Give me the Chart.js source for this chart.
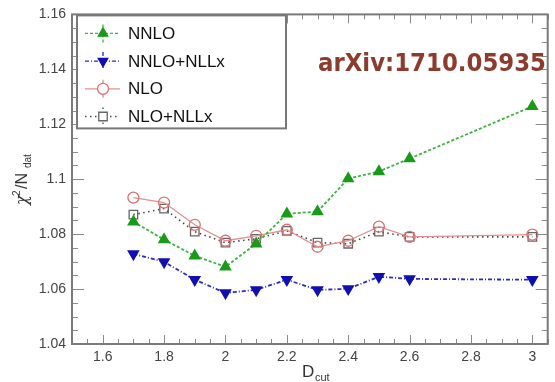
<!DOCTYPE html>
<html>
<head>
<meta charset="utf-8">
<script src="https://cdn.jsdelivr.net/npm/chart.js@4"></script>
<style>
  html, body { margin: 0; padding: 0; background: #fff; }
  #wrap { width: 555px; height: 382px; position: relative; }
</style>
</head>
<body>
<div id="wrap"><canvas id="chart"></canvas></div>
<script>
// D_cut values
const dcut = [1.7, 1.8, 1.9, 2.0, 2.1, 2.2, 2.3, 2.4, 2.5, 2.6, 3.0];

// chi2 / N_dat per fit
const nnlo      = [1.0845, 1.078, 1.0721, 1.0681, 1.0765, 1.0874, 1.0882, 1.1002, 1.1028, 1.1075, 1.1265];
const nnloNllx  = [1.0728, 1.0699, 1.0634, 1.0586, 1.0597, 1.0634, 1.0597, 1.0601, 1.0645, 1.0637, 1.0634];
const nlo       = [1.0933, 1.0915, 1.0834, 1.0776, 1.0794, 1.0816, 1.0754, 1.0776, 1.0827, 1.0790, 1.0798];
const nloNllx   = [1.0871, 1.0893, 1.0809, 1.0769, 1.0783, 1.0812, 1.0769, 1.0765, 1.0809, 1.0790, 1.0790];

const seriesLabels = ['NNLO', 'NNLO+NLLx', 'NLO', 'NLO+NLLx'];

// axis ticks
const xTicks = [1.6, 1.8, 2.0, 2.2, 2.4, 2.6, 2.8, 3.0];
const yTicks = [1.04, 1.06, 1.08, 1.10, 1.12, 1.14, 1.16];

const annotationText = 'arXiv:1710.05935';

const toPoints = ys => ys.map((y, i) => ({x: dcut[i], y: y}));

function fmt(v) {
    return String(parseFloat(v.toFixed(2)));
}

// ROOT-like frame with inward ticks
const framePlugin = {
    id: 'frame',
    beforeDatasetsDraw(chart) {
        const {ctx, chartArea: a, scales: {x, y}} = chart;
        ctx.save();
        ctx.strokeStyle = '#8a8a8a';
        ctx.lineWidth = 1;
        // minor + major ticks on x
        for (let v = 1.5; v <= 3.0501; v += 0.05) {
            let major = Math.abs(Math.round(v * 5) - v * 5) < 1e-6;
            let len = major ? 9 : 5;
            let px = Math.round(x.getPixelForValue(v)) + 0.5;
            ctx.beginPath();
            ctx.moveTo(px, a.bottom); ctx.lineTo(px, a.bottom - len);
            ctx.moveTo(px, a.top); ctx.lineTo(px, a.top + len);
            ctx.stroke();
        }
        for (let v = 1.04; v <= 1.1601; v += 0.005) {
            let major = Math.abs(Math.round(v * 50) - v * 50) < 1e-6;
            let len = major ? 12 : 6;
            let py = Math.round(y.getPixelForValue(v)) + 0.5;
            ctx.beginPath();
            ctx.moveTo(a.left, py); ctx.lineTo(a.left + len, py);
            ctx.moveTo(a.right, py); ctx.lineTo(a.right - len, py);
            ctx.stroke();
        }
        ctx.lineWidth = 2;
        ctx.strokeStyle = '#7a7a7a';
        ctx.strokeRect(a.left, a.top, a.right - a.left, a.bottom - a.top);
        ctx.restore();
    }
};

// legend box, annotation and axis titles
const overlayPlugin = {
    id: 'overlay',
    afterDatasetsDraw(chart) {
        const {ctx, chartArea: a} = chart;
        ctx.save();

        // legend box
        let lx = a.left + 5, ly = a.top + 1, lw = 209, lh = 113;
        ctx.fillStyle = '#fff';
        ctx.fillRect(lx, ly, lw, lh);
        ctx.strokeStyle = '#777';
        ctx.lineWidth = 2;
        ctx.strokeRect(lx, ly, lw, lh);

        chart.data.datasets.forEach((ds, i) => {
            let cy = ly + 18 + i * 27.7;
            let mx = lx + 26;
            ctx.strokeStyle = ds.borderColor;
            ctx.lineWidth = 1.3;
            ctx.setLineDash(ds.borderDash || []);
            ctx.beginPath();
            ctx.moveTo(lx + 8, cy); ctx.lineTo(lx + 43, cy);
            ctx.moveTo(mx, cy - 9); ctx.lineTo(mx, cy + 9);
            ctx.stroke();
            ctx.setLineDash([]);
            if (ds.pointBackgroundColor === 'rgba(255,255,255,0)') {
                ctx.fillStyle = '#fff';
                ctx.fillRect(mx - 5, cy - 5, 10, 10);
            }
            ctx.fillStyle = ds.pointBackgroundColor;
            ctx.strokeStyle = ds.pointBorderColor;
            ctx.lineWidth = 1.3;
            Chart.helpers.drawPoint(ctx, {
                pointStyle: ds.pointStyle,
                radius: ds.pointRadius,
                rotation: ds.pointRotation || 0,
                borderWidth: 1.3
            }, mx, cy);
            ctx.fillStyle = '#111';
            ctx.font = '17px "Liberation Sans", Arial, sans-serif';
            ctx.textBaseline = 'middle';
            ctx.textAlign = 'left';
            ctx.fillText(ds.label, lx + 51, cy + 1);
        });

        // annotation
        ctx.font = 'bold 24px "DejaVu Sans", sans-serif';
        let w = ctx.measureText(annotationText).width;
        ctx.translate(318, 65);
        ctx.scale(228 / w, 1);
        ctx.fillStyle = '#8c3b2c';
        ctx.textBaseline = 'middle';
        ctx.textAlign = 'left';
        ctx.fillText(annotationText, 0, 0);
        ctx.setTransform(1, 0, 0, 1, 0, 0);

        // x title D_cut
        ctx.fillStyle = '#333';
        ctx.textBaseline = 'alphabetic';
        ctx.font = '17px "Liberation Sans", Arial, sans-serif';
        ctx.fillText('D', 302, 377);
        ctx.font = '11px "Liberation Sans", Arial, sans-serif';
        ctx.fillText('cut', 315, 381);

        // y title chi2 / N_dat
        ctx.translate(27, 165);
        ctx.rotate(-Math.PI / 2);
        ctx.textAlign = 'left';
        ctx.font = 'italic 16px "DejaVu Serif", serif';
        ctx.fillText('\u03c7', -40, 0);
        ctx.font = '10px "Liberation Sans", Arial, sans-serif';
        ctx.fillText('2', -31, -7);
        ctx.font = '16px "Liberation Sans", Arial, sans-serif';
        ctx.fillText('/N', -24, 0);
        ctx.font = '10px "Liberation Sans", Arial, sans-serif';
        ctx.fillText('dat', -3, 4);
        ctx.restore();
    }
};

new Chart(document.getElementById('chart'), {
    type: 'line',
    data: {
        datasets: [
            {
                label: seriesLabels[0],
                data: toPoints(nnlo),
                borderColor: '#3cb43c',
                borderDash: [3, 2],
                borderWidth: 1.8,
                pointStyle: 'triangle',
                pointRadius: 5.5,
                pointBackgroundColor: '#1a9a1a',
                pointBorderColor: '#1a9a1a',
            },
            {
                label: seriesLabels[1],
                data: toPoints(nnloNllx),
                borderColor: '#2a2ad0',
                borderDash: [4, 2, 1, 2],
                borderWidth: 1.8,
                pointStyle: 'triangle',
                pointRotation: 180,
                pointRadius: 5.5,
                pointBackgroundColor: '#1010b0',
                pointBorderColor: '#1010b0',
            },
            {
                label: seriesLabels[2],
                data: toPoints(nlo),
                borderColor: '#e49090',
                borderWidth: 1.3,
                pointStyle: 'circle',
                pointRadius: 5.5,
                pointBackgroundColor: 'rgba(255,255,255,0)',
                pointBorderColor: '#dd7070',
                pointBorderWidth: 1.3,
            },
            {
                label: seriesLabels[3],
                data: toPoints(nloNllx),
                borderColor: '#444',
                borderDash: [1.5, 3.5],
                borderWidth: 1.6,
                pointStyle: 'rect',
                pointRadius: 6,
                pointBackgroundColor: 'rgba(255,255,255,0)',
                pointBorderColor: '#666',
                pointBorderWidth: 1.3,
            }
        ]
    },
    options: {
        responsive: true,
        maintainAspectRatio: false,
        animation: false,
        layout: {
            padding: {top: 14, right: 7, left: 0, bottom: 0}
        },
        scales: {
            x: {
                type: 'linear',
                min: 1.5,
                max: 3.05,
                afterBuildTicks: scale => { scale.ticks = xTicks.map(v => ({value: v})); },
                afterFit: scale => { scale.height = 38; },
                grid: {display: false, drawTicks: false},
                border: {display: false},
                ticks: {
                    autoSkip: false,
                    maxRotation: 0,
                    padding: 5,
                    color: '#444',
                    font: {family: '"Liberation Sans", Arial, sans-serif', size: 14},
                    callback: v => fmt(v)
                }
            },
            y: {
                type: 'linear',
                min: 1.04,
                max: 1.16,
                afterBuildTicks: scale => { scale.ticks = yTicks.map(v => ({value: v})); },
                afterFit: scale => { scale.width = 72; },
                grid: {display: false, drawTicks: false},
                border: {display: false},
                ticks: {
                    autoSkip: false,
                    padding: 6,
                    color: '#444',
                    font: {family: '"Liberation Sans", Arial, sans-serif', size: 14},
                    callback: v => fmt(v)
                }
            }
        },
        plugins: {
            legend: {display: false},
            tooltip: {enabled: false}
        }
    },
    plugins: [framePlugin, overlayPlugin]
});
</script>
</body>
</html>
